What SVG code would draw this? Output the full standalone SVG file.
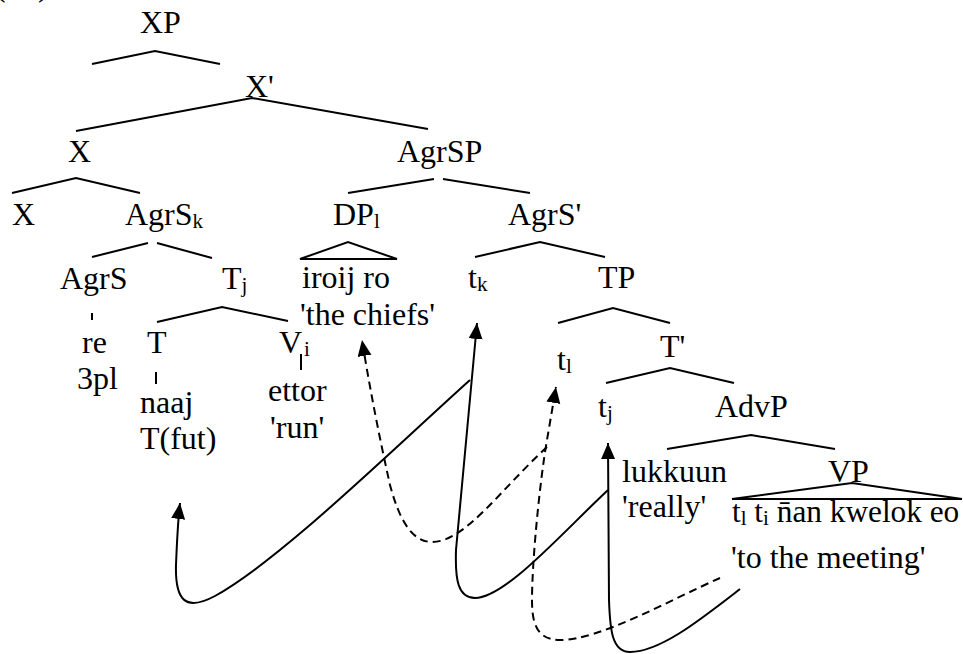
<svg xmlns="http://www.w3.org/2000/svg" width="963" height="654" viewBox="0 0 963 654">
  <style>
    text { font-family: "Liberation Serif", "Times New Roman", serif; font-size: 32px; fill: #000; }
    .sub { font-size: 21px; }
    .br { fill: none; stroke: #000; stroke-width: 2; stroke-linejoin: miter; }
    .mv { fill: none; stroke: #000; stroke-width: 2; }
    .dash { stroke-dasharray: 8 5; }
  </style>
  <defs>
    <marker id="ah" markerUnits="userSpaceOnUse" markerWidth="17" markerHeight="15" refX="16" refY="7" orient="auto">
      <path d="M0,0 L16,7 L0,14 z" fill="#000"/>
    </marker>
  </defs>
  <rect width="963" height="654" fill="#fff"/>

  <!-- example number, cut off at the top edge -->
  <text x="-5" y="-4">(</text>
  <text x="38" y="-4">)</text>

  <g id="xp"><text x="140" y="33">XP</text><path class="br" d="M92,64 L155,51 L220,64"/></g>
  <g id="xbar"><text x="245" y="97">X'</text><path class="br" d="M76,131 L252,98 L428,129"/></g>
  <g id="x-head"><text x="68" y="162">X</text><path class="br" d="M12,193 L76,178 L140,193"/></g>
  <g id="agrsp"><text x="397" y="162">AgrSP</text><path class="br" d="M348,193 L434,179 M443,179 L530,193"/></g>
  <g id="x-low"><text x="12" y="225">X</text></g>
  <g id="agrs-k"><text x="125" y="225">AgrS<tspan class="sub" dy="3">k</tspan></text><path class="br" d="M92,257 L148,243 M157,243 L212,258"/></g>
  <g id="dp-l"><text x="333" y="225">DP<tspan class="sub" dy="3">l</tspan></text><path class="br" d="M300,259 L348,242 L397,259 Z"/></g>
  <g id="agrs-bar"><text x="508" y="225">AgrS'</text><path class="br" d="M475,257 L540,242 L605,257"/></g>
  <g id="agrs"><text x="60" y="289">AgrS</text><path class="br" d="M92,313 L92,320"/></g>
  <g id="t-j"><text x="222" y="289">T<tspan class="sub" dy="3">j</tspan></text><path class="br" d="M157,322 L222,307 L288,321"/></g>
  <g id="chiefs"><text x="302" y="288">iroij ro</text><text x="300" y="325">'the chiefs'</text></g>
  <g id="t-k"><text x="468" y="288">t<tspan class="sub" dy="3">k</tspan></text></g>
  <g id="tp"><text x="598" y="288">TP</text><path class="br" d="M558,323 L613,308 L670,323"/></g>
  <g id="re"><text x="82" y="353">re</text><text x="77" y="389">3pl</text></g>
  <g id="t-head"><text x="147" y="353">T</text><path class="br" d="M156,372 L156,384"/><text x="140" y="413">naaj</text><text x="140" y="449">T(fut)</text></g>
  <g id="v-i"><text x="279" y="353">V<tspan class="sub" dx="2" dy="3">i</tspan></text><path class="br" d="M301,354 L301,370"/><text x="268" y="401">ettor</text><text x="270" y="438">'run'</text></g>
  <g id="t-l"><text x="557" y="370">t<tspan class="sub" dy="3">l</tspan></text></g>
  <g id="tbar"><text x="660" y="357">T'</text><path class="br" d="M606,383 L670,368 L734,383"/></g>
  <g id="t-j-trace"><text x="598" y="417">t<tspan class="sub" dy="3">j</tspan></text></g>
  <g id="advp"><text x="715" y="417">AdvP</text><path class="br" d="M667,449 L751,435 L835,449"/></g>
  <g id="adv"><text x="622" y="482">lukkuun</text><text x="622" y="517">'really'</text></g>
  <g id="vp"><text x="828" y="482">VP</text><path class="br" d="M732,499 L852,483 L962,499 Z"/>
    <text x="732" y="522" style="font-size:31.3px">t<tspan class="sub" dy="3">l</tspan><tspan dy="-3"> t</tspan><tspan class="sub" dy="3">i</tspan><tspan dy="-3"> n̄an kwelok eo</tspan></text>
    <text x="731" y="568">'to the meeting'</text>
  </g>

  <g id="movement">
    <!-- head movement: lukkuun site to t_k, branching to T(fut) -->
    <path class="mv" marker-end="url(#ah)" d="M608,490 C560,535 505,598 475,598 C458,598 455,580 456,550 L477,323"/>
    <path class="mv" marker-end="url(#ah)" d="M470,380 C390,452 280,560 215,596 C185,612 175,600 176,565 C177,540 178,520 180,503"/>
    <path class="mv" marker-end="url(#ah)" d="M740,589 C700,620 660,652 630,652 C612,652 610,630 609,600 L608,443"/>
    <!-- phrasal movement (dashed) -->
    <path class="mv dash" marker-end="url(#ah)" d="M720,578 C670,600 600,640 560,640 C535,640 532,620 532,600 C532,560 540,480 547,440 L556,387"/>
    <path class="mv dash" marker-end="url(#ah)" d="M547,447 C500,490 465,542 432,542 C410,542 398,515 390,485 C380,440 370,390 362,340"/>
  </g>
</svg>
